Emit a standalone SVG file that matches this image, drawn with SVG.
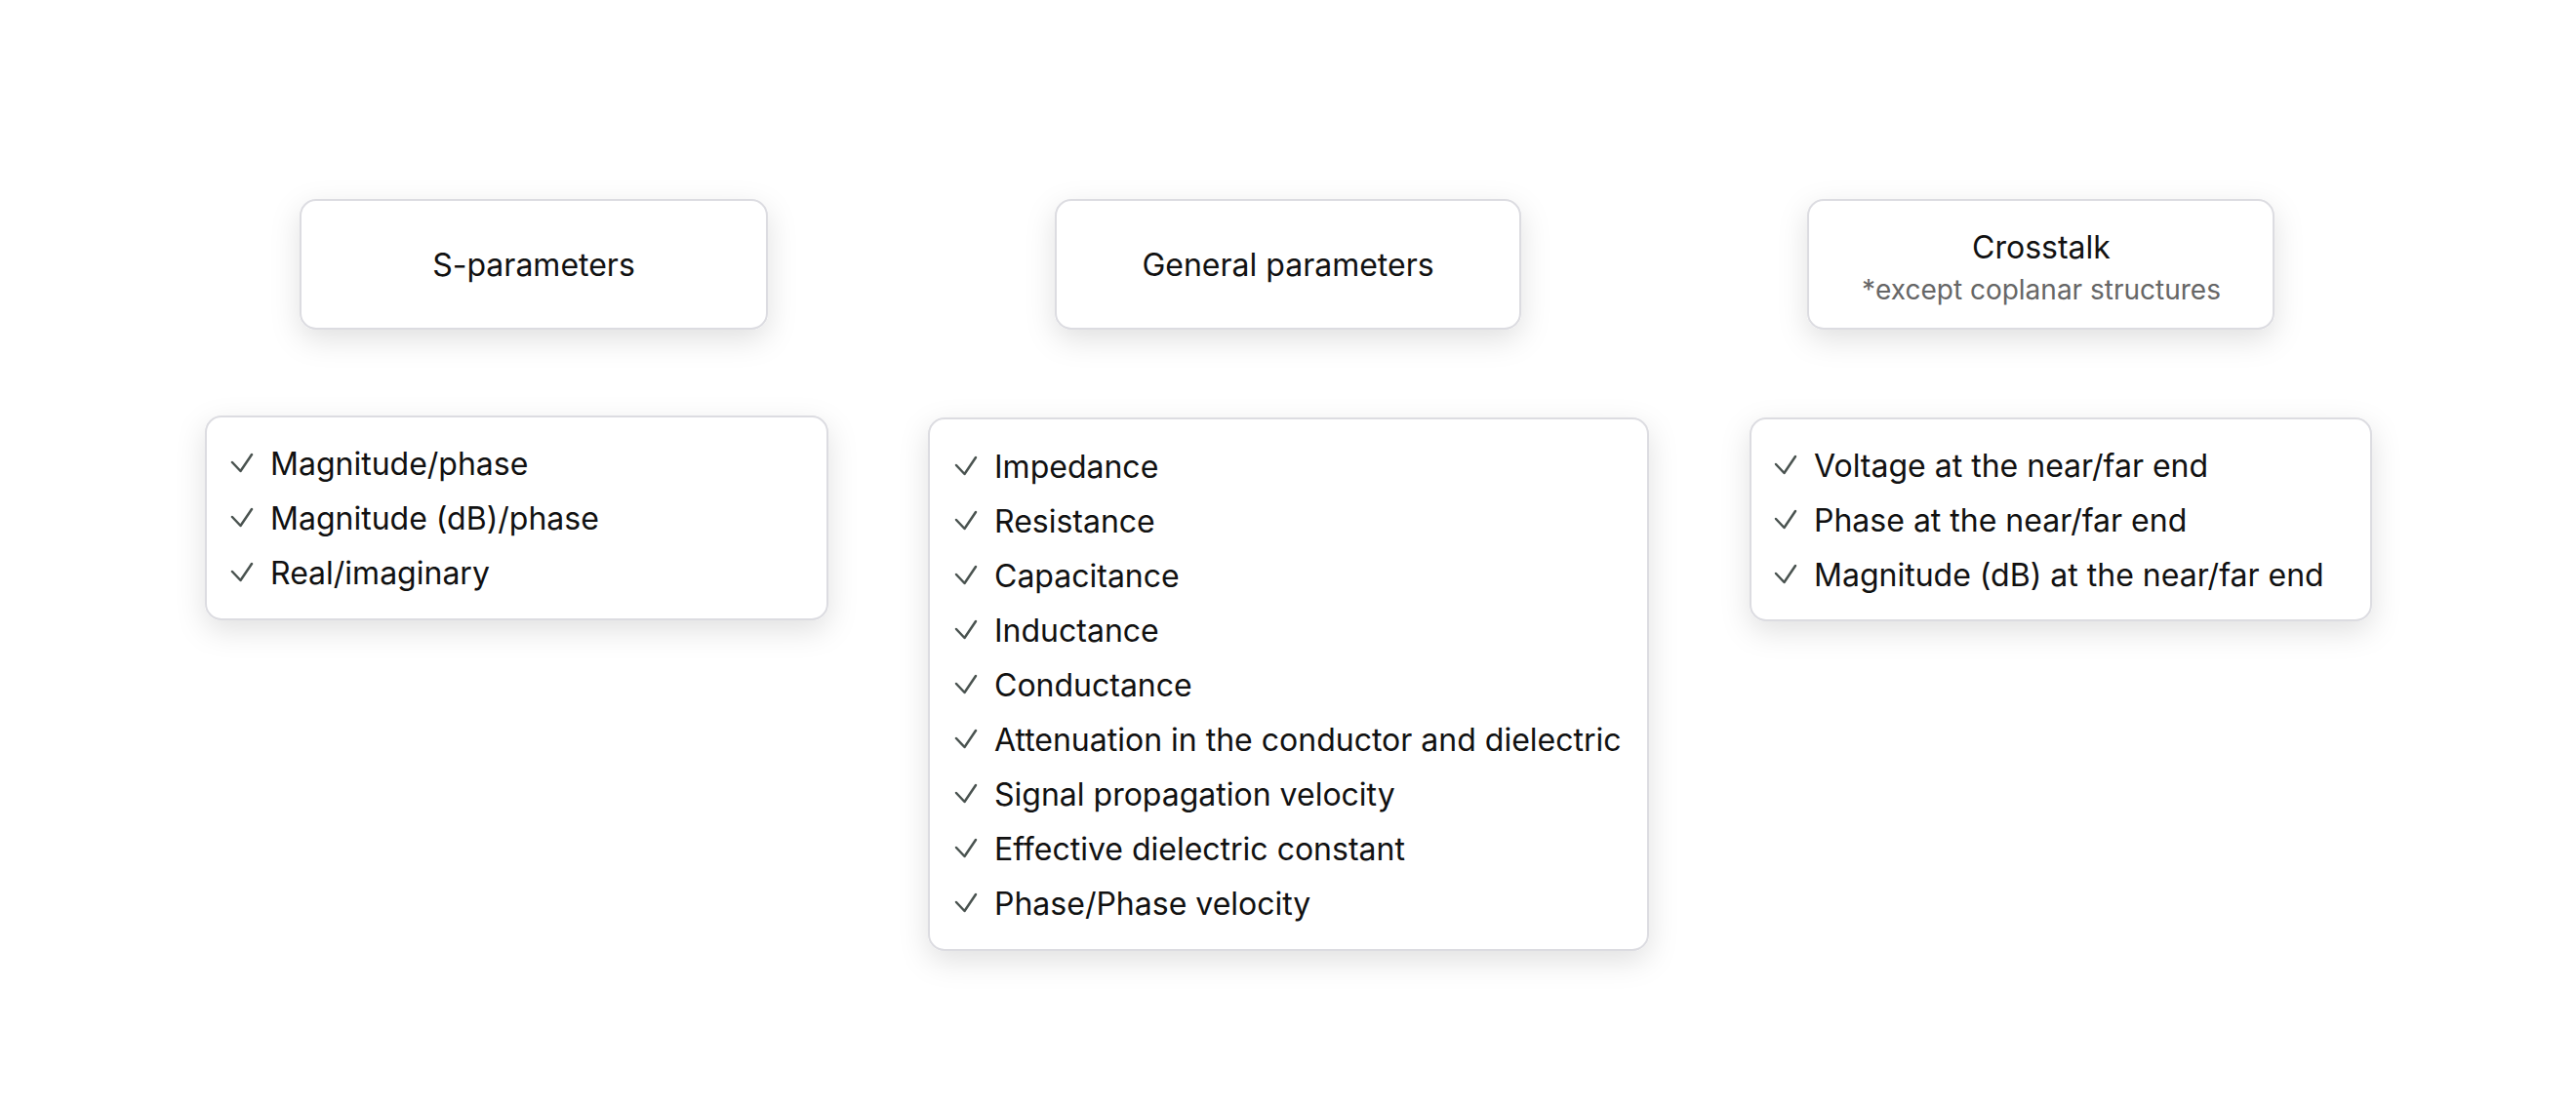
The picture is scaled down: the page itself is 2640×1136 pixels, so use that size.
<svg xmlns="http://www.w3.org/2000/svg" width="2640" height="1136" viewBox="0 0 2640 1136">
  <defs>
    <filter id="shadow" x="-20%" y="-30%" width="140%" height="170%">
      <feDropShadow dx="0" dy="10" stdDeviation="15" flood-color="#000000" flood-opacity="0.12"/>
    </filter>
    <path id="chk" d="M0 0 L8.5 9 L20 -8" fill="none" stroke="#4a5350" stroke-width="2.5" stroke-linecap="round" stroke-linejoin="round"/>
  </defs>
  <style>
    .box { fill: #ffffff; stroke: #dcdce1; stroke-width: 2; filter: url(#shadow); }
    .title { font-family: Inter, "Noto Sans", "Liberation Sans", sans-serif; font-size: 32px; fill: #111111; text-anchor: middle; }
    .sub { font-family: Inter, "Noto Sans", "Liberation Sans", sans-serif; font-size: 28px; fill: #666666; text-anchor: middle; }
    .item { font-family: Inter, "Noto Sans", "Liberation Sans", sans-serif; font-size: 32px; fill: #111111; }
    .conn { stroke: #ffffff; stroke-width: 2; fill: none; }
  </style>
  <rect width="2640" height="1136" fill="#ffffff"/>

  <g id="connectors">
    <line class="conn" x1="530" y1="343" x2="530" y2="422"/>
    <line class="conn" x1="1320" y1="343" x2="1320" y2="422"/>
    <line class="conn" x1="2112" y1="343" x2="2112" y2="422"/>
  </g>

  <g id="node-sparams">
    <rect class="box" x="308" y="205" width="478" height="132" rx="16"/>
    <text class="title" x="547" y="283">S-parameters</text>
  </g>

  <g id="node-general">
    <rect class="box" x="1082" y="205" width="476" height="132" rx="16"/>
    <text class="title" x="1320" y="283">General parameters</text>
  </g>

  <g id="node-crosstalk">
    <rect class="box" x="1853" y="205" width="477" height="132" rx="16"/>
    <text class="title" x="2092" y="265">Crosstalk</text>
    <text class="sub" x="2092" y="307">*except coplanar structures</text>
  </g>

  <g id="node-sparams-list">
    <rect class="box" x="211" y="427" width="637" height="208" rx="16"/>
    <use href="#chk" x="238" y="474"/>
    <text class="item" x="277" y="487">Magnitude/phase</text>
    <use href="#chk" x="238" y="530"/>
    <text class="item" x="277" y="543">Magnitude (dB)/phase</text>
    <use href="#chk" x="238" y="586"/>
    <text class="item" x="277" y="599">Real/imaginary</text>
  </g>

  <g id="node-general-list">
    <rect class="box" x="952" y="429" width="737" height="545" rx="16"/>
    <use href="#chk" x="980" y="477"/>
    <text class="item" x="1019" y="490">Impedance</text>
    <use href="#chk" x="980" y="533"/>
    <text class="item" x="1019" y="546">Resistance</text>
    <use href="#chk" x="980" y="589"/>
    <text class="item" x="1019" y="602">Capacitance</text>
    <use href="#chk" x="980" y="645"/>
    <text class="item" x="1019" y="658">Inductance</text>
    <use href="#chk" x="980" y="701"/>
    <text class="item" x="1019" y="714">Conductance</text>
    <use href="#chk" x="980" y="757"/>
    <text class="item" x="1019" y="770">Attenuation in the conductor and dielectric</text>
    <use href="#chk" x="980" y="813"/>
    <text class="item" x="1019" y="826">Signal propagation velocity</text>
    <use href="#chk" x="980" y="869"/>
    <text class="item" x="1019" y="882">Effective dielectric constant</text>
    <use href="#chk" x="980" y="925"/>
    <text class="item" x="1019" y="938">Phase/Phase velocity</text>
  </g>

  <g id="node-crosstalk-list">
    <rect class="box" x="1794" y="429" width="636" height="207" rx="16"/>
    <use href="#chk" x="1820" y="476"/>
    <text class="item" x="1859" y="489">Voltage at the near/far end</text>
    <use href="#chk" x="1820" y="532"/>
    <text class="item" x="1859" y="545">Phase at the near/far end</text>
    <use href="#chk" x="1820" y="588"/>
    <text class="item" x="1859" y="601">Magnitude (dB) at the near/far end</text>
  </g>
</svg>
